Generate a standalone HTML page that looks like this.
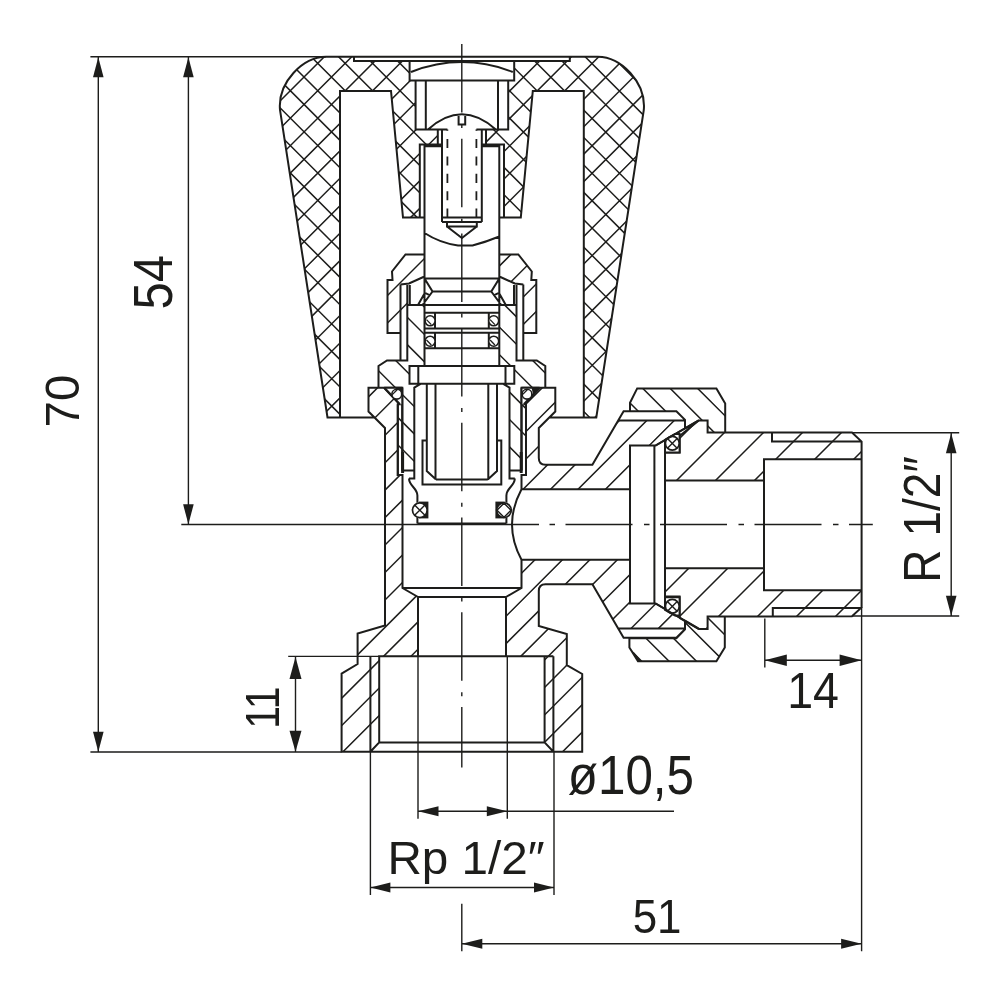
<!DOCTYPE html><html><head><meta charset="utf-8"><title>Valve drawing</title><style>html,body{margin:0;padding:0;background:#fff}svg{display:block;will-change:transform;transform:translateZ(0)}</style></head><body><svg width="1000" height="1000" viewBox="0 0 1000 1000">
<defs><clipPath id="c1"><path d="M326,56.8 C303,57 277.5,82 280,110 L327.5,417.5 L340,417.5 L340,91 L391,91 L403,217.5 L419.8,217.5 L419.8,144.4 L437.8,144.4 L437.8,129.4 L415.6,129.4 L415.6,80.5 L409.6,80.5 L409.6,61 L354,61 L354,56.8 Z"/></clipPath><clipPath id="c2"><path d="M597.8 56.8 C620.8 57 646.3 82 643.8 110 L596.3 417.5 L583.8 417.5 L583.8 91 L532.8 91 L520.8 217.5 L504 217.5 L504 144.4 L486 144.4 L486 129.4 L508.2 129.4 L508.2 80.5 L514.2 80.5 L514.2 61 L569.8 61 L569.8 56.8 Z"/></clipPath><clipPath id="c3"><path d="M424.5,254.5 L405.5,254.5 L392,271.5 L392.5,280 L387.5,280 L387.5,333 L400.5,333 L400.5,315 L407.5,315 L407.5,285 L424.5,276.5 Z"/></clipPath><clipPath id="c4"><path d="M499.3,254.5 L518.3,254.5 L531.8,271.5 L531.3,280 L536.3,280 L536.3,333 L523.3,333 L523.3,284.5 L514.8,283.5 L499.3,276.5 Z"/></clipPath><clipPath id="c5"><path d="M407.5,305 L424.5,305 L424.5,366 L407.5,366 Z"/></clipPath><clipPath id="c6"><path d="M516.3 305 L499.3 305 L499.3 366 L516.3 366 Z"/></clipPath><clipPath id="c7"><path d="M387,360.5 L407.5,360.5 L407.5,366 L409.5,366 L409.5,383.7 L421,383.7 L414.3,387.6 L414.3,470.5 L402.3,470.5 L402.3,387.7 L378.5,387.7 L378.5,366 Z"/></clipPath><clipPath id="c8"><path d="M536.8 360.5 L516.3 360.5 L516.3 366 L514.3 366 L514.3 383.7 L502.8 383.7 L509.5 387.6 L509.5 470.5 L521.5 470.5 L521.5 387.7 L545.3 387.7 L545.3 366 Z"/></clipPath><clipPath id="c9"><path d="M368.5,387.7 L384.2,387.7 L400,404.3 L397.8,404.3 L397.8,475 L402.5,475 L402.5,588 L418,597 L418,656.3 L379.2,656.3 L379.2,742.4 L370.4,751.8 L341.6,751.8 L341.6,673.6 L357.6,664 L357.6,633.6 L385,625.5 L385,428 L368.5,411.5 Z"/></clipPath><clipPath id="c10"><path d="M523.8,404.3 L539.6,387.7 L555.3,387.7 L555.3,411.5 L538.8,428 L538.8,458 Q538.8,464.8 545.5,464.8 L592.4,464.8 L618.2,420.4 L685,420.4 L685,428.3 L655.6,445.5 L630,445.5 L630,489.2 L521.5,489.2 L521.5,475 L526,475 L526,404.3 Z"/></clipPath><clipPath id="c11"><path d="M521.5,559.8 L630,559.8 L630,603.5 L655.6,603.5 L685,620.7 L685,628.6 L618.2,628.6 L592.4,584.2 L545.5,584.2 Q538.8,584.2 538.8,591 L538.8,626 L566.8,634 L566.8,665.2 L582.2,674 L582.2,751.8 L553.4,751.8 L544.6,742.4 L544.6,656.3 L506,656.3 L506,597 L521.5,588 Z"/></clipPath><clipPath id="c12"><path d="M397.8,404.3 L402.3,404.3 L402.3,452 L397.8,452 Z"/></clipPath><clipPath id="c13"><path d="M521.5,404.3 L526,404.3 L526,452 L521.5,452 Z"/></clipPath><clipPath id="c14"><path d="M637.2,388.4 L716.4,388.4 L725.2,403.6 L725.2,432.6 L707.6,432.6 L707.6,420.4 L698.8,420.4 L685,428.3 L685,419.8 L676.4,411.2 L630,411.2 L630,402.8 Z"/></clipPath><clipPath id="c15"><path d="M638,661.3 L716.4,661.3 L724.8,647.5 L724.8,616.6 L707.6,616.6 L707.6,629 L698.8,629 L685,620.7 L685,629.4 L676.4,638.2 L629.4,638.2 L629.4,647.5 Z"/></clipPath><clipPath id="c16"><path d="M665,452.4 L679.6,452.4 L679.6,436 L698.8,420.4 L707.6,420.4 L707.6,432.6 L852,432.6 L861.6,441.6 L861.6,459.2 L764,459.2 L764,480.6 L665,480.6 Z"/></clipPath><clipPath id="c17"><path d="M665,568.2 L764,568.2 L764,590.2 L861.6,590.2 L861.6,607.4 L852,616.2 L707.6,616.6 L707.6,629 L698.8,629 L679.6,618 L679.6,596.6 L665,596.6 Z"/></clipPath><clipPath id="cor"><circle cx="504" cy="510.2" r="7.3"/></clipPath><clipPath id="cd"><rect x="440" y="129.4" width="45" height="92.6"/></clipPath></defs>
<rect width="1000" height="1000" fill="#fff"/>
<g fill="none" stroke="#1d1d1b" stroke-linecap="butt"><path clip-path="url(#c1)" d="M-65.9,419.5 L298.8,54.8 M-38.45,419.5 L326.25,54.8 M-11,419.5 L353.7,54.8 M16.45,419.5 L381.15,54.8 M43.9,419.5 L408.6,54.8 M71.35,419.5 L436.05,54.8 M98.8,419.5 L463.5,54.8 M126.25,419.5 L490.95,54.8 M153.7,419.5 L518.4,54.8 M181.15,419.5 L545.85,54.8 M208.6,419.5 L573.3,54.8 M236.05,419.5 L600.75,54.8 M263.5,419.5 L628.2,54.8 M290.95,419.5 L655.65,54.8 M318.4,419.5 L683.1,54.8 M345.85,419.5 L710.55,54.8 M373.3,419.5 L738,54.8 M400.75,419.5 L765.45,54.8 M428.2,419.5 L792.9,54.8 M-74.4,54.8 L290.3,419.5 M-47,54.8 L317.7,419.5 M-19.6,54.8 L345.1,419.5 M7.8,54.8 L372.5,419.5 M35.2,54.8 L399.9,419.5 M62.6,54.8 L427.3,419.5 M90,54.8 L454.7,419.5 M117.4,54.8 L482.1,419.5 M144.8,54.8 L509.5,419.5 M172.2,54.8 L536.9,419.5 M199.6,54.8 L564.3,419.5 M227,54.8 L591.7,419.5 M254.4,54.8 L619.1,419.5 M281.8,54.8 L646.5,419.5 M309.2,54.8 L673.9,419.5 M336.6,54.8 L701.3,419.5 M364,54.8 L728.7,419.5 M391.4,54.8 L756.1,419.5 M418.8,54.8 L783.5,419.5" stroke-width="1.5"/><path clip-path="url(#c2)" d="M126.25,419.5 L490.95,54.8 M153.7,419.5 L518.4,54.8 M181.15,419.5 L545.85,54.8 M208.6,419.5 L573.3,54.8 M236.05,419.5 L600.75,54.8 M263.5,419.5 L628.2,54.8 M290.95,419.5 L655.65,54.8 M318.4,419.5 L683.1,54.8 M345.85,419.5 L710.55,54.8 M373.3,419.5 L738,54.8 M400.75,419.5 L765.45,54.8 M428.2,419.5 L792.9,54.8 M455.65,419.5 L820.35,54.8 M483.1,419.5 L847.8,54.8 M510.55,419.5 L875.25,54.8 M538,419.5 L902.7,54.8 M565.45,419.5 L930.15,54.8 M592.9,419.5 L957.6,54.8 M620.35,419.5 L985.05,54.8 M647.8,419.5 L1012.5,54.8 M144.8,54.8 L509.5,419.5 M172.2,54.8 L536.9,419.5 M199.6,54.8 L564.3,419.5 M227,54.8 L591.7,419.5 M254.4,54.8 L619.1,419.5 M281.8,54.8 L646.5,419.5 M309.2,54.8 L673.9,419.5 M336.6,54.8 L701.3,419.5 M364,54.8 L728.7,419.5 M391.4,54.8 L756.1,419.5 M418.8,54.8 L783.5,419.5 M446.2,54.8 L810.9,419.5 M473.6,54.8 L838.3,419.5 M501,54.8 L865.7,419.5 M528.4,54.8 L893.1,419.5 M555.8,54.8 L920.5,419.5 M583.2,54.8 L947.9,419.5 M610.6,54.8 L975.3,419.5 M638,54.8 L1002.7,419.5" stroke-width="1.5"/><path clip-path="url(#c3)" d="M320.55,335 L403.05,252.5 M348,335 L430.5,252.5 M375.45,335 L457.95,252.5 M402.9,335 L485.4,252.5" stroke-width="1.5"/><path clip-path="url(#c4)" d="M430.35,335 L512.85,252.5 M457.8,335 L540.3,252.5 M485.25,335 L567.75,252.5 M512.7,335 L595.2,252.5" stroke-width="1.5"/><path clip-path="url(#c5)" d="M365.6,303 L430.6,368 M393,303 L458,368 M420.4,303 L485.4,368" stroke-width="1.5"/><path clip-path="url(#c6)" d="M447.8,303 L512.8,368 M475.2,303 L540.2,368 M502.6,303 L567.6,368" stroke-width="1.5"/><path clip-path="url(#c7)" d="M284.1,358.5 L398.1,472.5 M311.5,358.5 L425.5,472.5 M338.9,358.5 L452.9,472.5 M366.3,358.5 L480.3,472.5 M393.7,358.5 L507.7,472.5 M421.1,358.5 L535.1,472.5" stroke-width="1.5"/><path clip-path="url(#c8)" d="M393.7,358.5 L507.7,472.5 M421.1,358.5 L535.1,472.5 M448.5,358.5 L562.5,472.5 M475.9,358.5 L589.9,472.5 M503.3,358.5 L617.3,472.5 M530.7,358.5 L644.7,472.5" stroke-width="1.5"/><path clip-path="url(#c9)" d="M-15.9,753.8 L352.2,385.7 M11.55,753.8 L379.65,385.7 M39,753.8 L407.1,385.7 M66.45,753.8 L434.55,385.7 M93.9,753.8 L462,385.7 M121.35,753.8 L489.45,385.7 M148.8,753.8 L516.9,385.7 M176.25,753.8 L544.35,385.7 M203.7,753.8 L571.8,385.7 M231.15,753.8 L599.25,385.7 M258.6,753.8 L626.7,385.7 M286.05,753.8 L654.15,385.7 M313.5,753.8 L681.6,385.7 M340.95,753.8 L709.05,385.7 M368.4,753.8 L736.5,385.7 M395.85,753.8 L763.95,385.7" stroke-width="1.5"/><path clip-path="url(#c10)" d="M438.85,491.2 L544.35,385.7 M466.3,491.2 L571.8,385.7 M493.75,491.2 L599.25,385.7 M521.2,491.2 L626.7,385.7 M548.65,491.2 L654.15,385.7 M576.1,491.2 L681.6,385.7 M603.55,491.2 L709.05,385.7 M631,491.2 L736.5,385.7 M658.45,491.2 L763.95,385.7 M685.9,491.2 L791.4,385.7" stroke-width="1.5"/><path clip-path="url(#c11)" d="M313.5,753.8 L509.5,557.8 M340.95,753.8 L536.95,557.8 M368.4,753.8 L564.4,557.8 M395.85,753.8 L591.85,557.8 M423.3,753.8 L619.3,557.8 M450.75,753.8 L646.75,557.8 M478.2,753.8 L674.2,557.8 M505.65,753.8 L701.65,557.8 M533.1,753.8 L729.1,557.8 M560.55,753.8 L756.55,557.8 M588,753.8 L784,557.8 M615.45,753.8 L811.45,557.8 M642.9,753.8 L838.9,557.8 M670.35,753.8 L866.35,557.8" stroke-width="1.5"/><path clip-path="url(#c12)" d="M355.3,402.3 L407,454 M382.7,402.3 L434.4,454" stroke-width="1.5"/><path clip-path="url(#c13)" d="M492.3,402.3 L544,454 M519.7,402.3 L571.4,454" stroke-width="1.5"/><path clip-path="url(#c14)" d="M586,386.4 L634.2,434.6 M613.4,386.4 L661.6,434.6 M640.8,386.4 L689,434.6 M668.2,386.4 L716.4,434.6 M695.6,386.4 L743.8,434.6 M723,386.4 L771.2,434.6" stroke-width="1.5"/><path clip-path="url(#c15)" d="M595,614.6 L643.7,663.3 M622.4,614.6 L671.1,663.3 M649.8,614.6 L698.5,663.3 M677.2,614.6 L725.9,663.3 M704.6,614.6 L753.3,663.3" stroke-width="1.5"/><path clip-path="url(#c16)" d="M635.4,482.6 L699.6,418.4 M674.4,482.6 L738.6,418.4 M713.4,482.6 L777.6,418.4 M752.4,482.6 L816.6,418.4 M791.4,482.6 L855.6,418.4 M830.4,482.6 L894.6,418.4" stroke-width="1.5"/><path clip-path="url(#c17)" d="M626,631 L690.8,566.2 M665,631 L729.8,566.2 M704,631 L768.8,566.2 M743,631 L807.8,566.2 M782,631 L846.8,566.2 M821,631 L885.8,566.2 M860,631 L924.8,566.2" stroke-width="1.5"/></g>
<g fill="#fff" stroke="none"><rect x="409.5" y="366" width="104.8" height="17.7"/></g>
<g fill="none" stroke="#1d1d1b" stroke-width="2.0" stroke-linejoin="miter" stroke-linecap="butt">
<path d="M326,56.8 C303,57 277.5,82 280,110 L327.5,417.5 L340,417.5 L340,91 L391,91 L403,217.5 L419.8,217.5 L419.8,144.4 L437.8,144.4 L437.8,129.4 L415.6,129.4 L415.6,80.5 L409.6,80.5 L409.6,61 L354,61 L354,56.8 Z M597.8 56.8 C620.8 57 646.3 82 643.8 110 L596.3 417.5 L583.8 417.5 L583.8 91 L532.8 91 L520.8 217.5 L504 217.5 L504 144.4 L486 144.4 L486 129.4 L508.2 129.4 L508.2 80.5 L514.2 80.5 L514.2 61 L569.8 61 L569.8 56.8 Z M354,56.8 L569.8,56.8 M354,61 L569.8,61 M340,417.5 L374.5,417.5 M583.8 417.5 L549.3 417.5 M409.6,80.5 L514.2,80.5 M411,72 Q461.9,52.2 512.8,72 M425.8,80.5 L425.8,129 M498 80.5 L498 129 M428,129.4 Q461.9,99 495.8,129.4 M458.6,114.6 L458.6,124.6 L465.2,124.6 L465.2,114.6 M415.6,129.4 L447.4,129.4 M508.2 129.4 L476.4 129.4 M442,129.4 L442,222 M481.8 129.4 L481.8 222 M437.8,144.4 L442,144.4 M486 144.4 L481.8 144.4 M424.5,146.3 L442,146.3 M499.3 146.3 L481.8 146.3 M424.5,144.4 L424.5,366 M499.3 144.4 L499.3 366 M419.8,217.5 L424.5,217.5 M504 217.5 L499.3 217.5 M442,217.5 L481.8,217.5 M442,222 L481.8,222 M447,222 L447,226.5 L476.8,226.5 L476.8,222 M447,226.5 L461.9,238 L476.8,226.5 M424.5,233 Q440,243 458,245.5 L472.5,245.5 Q486,242 499.3,236.5 M424.5,254.5 L405.5,254.5 L392,271.5 L392.5,280 L387.5,280 L387.5,333 L400.5,333 M499.3 254.5 L518.3 254.5 L531.8 271.5 L531.3 280 L536.3 280 L536.3 333 L523.3 333 M400.5,284.5 L400.5,360.5 L407.3,360.5 L407.3,285 M523.3 284.5 L523.3 360.5 L516.5 360.5 L516.5 285 M400.5,284.5 L409,283.5 L424.5,276.5 M523.3 284.5 L514.8 283.5 L499.3 276.5 M409.8,285 L409.8,305 M514 285 L514 305 M424.5,278.5 L499.3,278.5 M432.5,291.5 L491.3,291.5 M424.5,278.5 L432.5,291.5 L422.5,305 M499.3 278.5 L491.3 291.5 L501.3 305 M424.5,293.5 L418,305 M499.3 293.5 L505.8 305 M424.5,292.7 L430,295.3 M499.3 292.7 L493.8 295.3 M407.5,305 L516.3,305 M424.5,312.8 L499.3,312.8 M424.5,328.4 L499.3,328.4 M424.5,332.7 L499.3,332.7 M424.5,348.2 L499.3,348.2 M435,312.8 L435,328.4 M488.8 312.8 L488.8 328.4 M435,332.7 L435,348.2 M488.8 332.7 L488.8 348.2 M407.5,360.5 L387,360.5 L378.5,366 L378.5,387.7 M516.3 360.5 L536.8 360.5 L545.3 366 L545.3 387.7 M421,383.7 L414.3,387.6 L414.3,478.5 L409,478.5 M502.8 383.7 L509.5 387.6 L509.5 478.5 L514.8 478.5 M402.5,470.5 L413.5,470.5 M521.3 470.5 L510.3 470.5 M409.5,366 L514.3,366 L514.3,383.7 L409.5,383.7 Z M418.3,366 L418.3,383.7 M505.5 366 L505.5 383.7 M368.5,387.7 L384.2,387.7 L400,404.3 L397.8,404.3 L397.8,475 L402.5,475 L402.5,588 L418,597 L418,656.3 L379.2,656.3 L379.2,742.4 L370.4,751.8 L341.6,751.8 L341.6,673.6 L357.6,664 L357.6,633.6 L385,625.5 L385,428 L368.5,411.5 Z M523.8,404.3 L539.6,387.7 L555.3,387.7 L555.3,411.5 L538.8,428 L538.8,458 Q538.8,464.8 545.5,464.8 L592.4,464.8 L618.2,420.4 L685,420.4 L685,428.3 L655.6,445.5 L630,445.5 L630,489.2 L521.5,489.2 L521.5,475 L526,475 L526,404.3 Z M521.5,559.8 L630,559.8 L630,603.5 L655.6,603.5 L685,620.7 L685,628.6 L618.2,628.6 L592.4,584.2 L545.5,584.2 Q538.8,584.2 538.8,591 L538.8,626 L566.8,634 L566.8,665.2 L582.2,674 L582.2,751.8 L553.4,751.8 L544.6,742.4 L544.6,656.3 L506,656.3 L506,597 L521.5,588 Z M384.2,387.7 L402.3,387.7 M539.6 387.7 L521.5 387.7 M402.3,387.7 L402.3,470.5 M521.5 387.7 L521.5 470.5 M618.2,420.4 L623.6,411.2 L676.4,411.2 L685,419.8 L685,420.4 M618.2 628.6 L623.6 637.8 L676.4 637.8 L685 629.2 L685 628.6 M698.8,420.4 L685,428.3 M698.8 628.6 L685 620.7 M654.4,445.5 L654.4,603.5 M630,445.5 L630,603.5 M370.4,656.3 L370.4,751.8 M553.4,656.3 L553.4,751.8 M379.2,742.4 L544.6,742.4 M341.6,751.8 L582.2,751.8 M379.2,656.3 L553.4,656.3 M418,597 L506,597 M402.5,588 L521.5,588 M521.5,489.2 Q502.5,524.5 521.5,559.8 M426.8,383.7 L426.8,471 L436,479.5 M497 383.7 L497 471 L487.8 479.5 M435.5,383.7 L435.5,479.5 M488.3 383.7 L488.3 479.5 M436,479.5 L487.8,479.5 M426.8,440.5 L422.5,440.5 L422.5,484.5 L501.3,484.5 L501.3,440.5 L497,440.5 M409,478.5 C409,486 417.4,488 417.4,495.5 L417.4,502.6 M514.8 478.5 C514.8 486 506.4 488 506.4 495.5 L506.4 502.6 M417.4,517.4 L417.4,523.4 M506.4 517.4 L506.4 523.4 M637.2,388.4 L716.4,388.4 L725.2,403.6 L725.2,432.6 L707.6,432.6 L707.6,420.4 L698.8,420.4 L685,428.3 L685,419.8 L676.4,411.2 L630,411.2 L630,402.8 Z M638,661.3 L716.4,661.3 L724.8,647.5 L724.8,616.6 L707.6,616.6 L707.6,629 L698.8,629 L685,620.7 L685,629.4 L676.4,638.2 L629.4,638.2 L629.4,647.5 Z M633.2,652.8 L640.4,661.3 M665,452.4 L679.6,452.4 L679.6,436 L698.8,420.4 L707.6,420.4 L707.6,432.6 L852,432.6 L861.6,441.6 L861.6,459.2 L764,459.2 L764,480.6 L665,480.6 Z M665,568.2 L764,568.2 L764,590.2 L861.6,590.2 L861.6,607.4 L852,616.2 L707.6,616.6 L707.6,629 L698.8,629 L679.6,618 L679.6,596.6 L665,596.6 Z M665,440 L665,609.6 M764,459.2 L764,590.2 M861.6,441.6 L861.6,607.4 M772,432.6 L772,441.6 L861.6,441.6 M772.8,616.2 L772.8,608 L861.6,608"/>
</g>
<g fill="none" stroke="#1d1d1b"><path d="M402.6,452 L402.6,473 M521.2,452 L521.2,473" stroke-width="3"/><path d="M417.4,523.6 L506.4,523.6" stroke-width="2.4"/><rect x="420" y="502.6" width="7.4" height="14.8" fill="#1d1d1b" stroke-width="2.0"/><circle cx="419.8" cy="510.2" r="7.3" fill="#fff" stroke-width="1.7"/><path d="M414.64,505.04 L424.96,515.36 M414.64,515.36 L424.96,505.04" stroke-width="1.4"/><rect x="496.4" y="502.6" width="7.4" height="14.8" fill="#1d1d1b" stroke-width="2.0"/><circle cx="504" cy="510.2" r="7.3" fill="#fff" stroke-width="1.7"/><path clip-path="url(#cor)" d="M505,502.2 l-9,9 M512,509.2 l-9,9 M503,502.2 l9,9 M496,509.2 l9,9" stroke-width="1.4"/><path d="M665,439.8 L675,434 L679.6,434 L679.6,452.4 L665,452.4 Z" fill="#fff" stroke-width="2.0"/><circle cx="672.3" cy="443.3" r="6.9" fill="#fff" stroke-width="1.7"/><path d="M667.42,438.42 L677.18,448.18 M667.42,448.18 L677.18,438.42" stroke-width="1.4"/><path d="M665,609.8 L675,615.6 L679.6,615.6 L679.6,597.2 L665,597.2 Z" fill="#fff" stroke-width="2.0"/><circle cx="672.3" cy="606.3" r="6.9" fill="#fff" stroke-width="1.7"/><path d="M667.42,601.42 L677.18,611.18 M667.42,611.18 L677.18,601.42" stroke-width="1.4"/><path d="M698.8,420.4 L655.6,445.5" stroke-width="2.0"/><path d="M698.8,629 L655.6,603.5" stroke-width="2.0"/><circle cx="430.1" cy="320.8" r="5" fill="#fff" stroke-width="1.6"/><path d="M426.5,319.6 L431.3,324.6" stroke-width="1.3"/><circle cx="430.1" cy="341.2" r="5" fill="#fff" stroke-width="1.6"/><path d="M426.5,340 L431.3,345" stroke-width="1.3"/><circle cx="493.7" cy="320.8" r="5" fill="#fff" stroke-width="1.6"/><path d="M490.1,319.6 L494.9,324.6" stroke-width="1.3"/><circle cx="493.7" cy="341.2" r="5" fill="#fff" stroke-width="1.6"/><path d="M490.1,340 L494.9,345" stroke-width="1.3"/><path d="M384.2,387.7 L402.3,387.7 L402.3,404.3 L400,404.3 Z" fill="#fff" stroke="none"/><path d="M395,387.7 L402.3,387.7 L402.3,396 Z" fill="#1d1d1b" stroke="none"/><path d="M384.2,387.7 L399.8,404.3" stroke-width="2.4"/><circle cx="396.8" cy="394.2" r="4.9" fill="#fff" stroke-width="1.6"/><path d="M392.3,394.6 L397.1,389.8" stroke-width="1.3"/><path d="M384.2,387.7 L402.3,387.7 L402.3,470.5" stroke-width="2.0"/><path d="M397.8,404.3 L397.8,475 L402.5,475" stroke-width="2.0"/><path d="M539.6,387.7 L521.5,387.7 L521.5,404.3 L523.8,404.3 Z" fill="#fff" stroke="none"/><path d="M531.5,387.7 L539.6,387.7 L533.2,394.4 Z" fill="#1d1d1b" stroke="none"/><path d="M539.6,387.7 L524,404.3" stroke-width="2.4"/><circle cx="527" cy="394.2" r="4.9" fill="#fff" stroke-width="1.6"/><path d="M522.5,394.6 L527.3,389.8" stroke-width="1.3"/><path d="M539.6,387.7 L521.5,387.7 L521.5,470.5" stroke-width="2.0"/><path d="M526,404.3 L526,475 L521.3,475" stroke-width="2.0"/><path d="M447.4,121.6 L447.4,222 M476.4,121.6 L476.4,222" stroke-width="1.8" stroke-dasharray="9.1 8.3" clip-path="url(#cd)"/></g>
<g fill="none" stroke="#1d1d1b" stroke-width="1.4"><path d="M90.4,56.8 L326,56.8 M90.4,752 L341.6,752 M98.3,57 L98.3,752 M188.4,57 L188.4,524.5 M295.5,656.5 L295.5,752 M288.2,656.4 L379.2,656.4 M181.3,524.5 L539,524.5 M852,432.8 L959.2,432.8 M852,616 L959.2,616 M951.2,433 L951.2,616 M764.8,618.4 L764.8,667.5 M861.6,607 L861.6,951.2 M764.8,660.3 L861.6,660.3 M418,656.3 L418,818.7 M507.3,656.3 L507.3,818.7 M418,811.2 L674,811.2 M370.4,751.8 L370.4,895 M554,751.8 L554,895 M370.4,887.5 L554,887.5 M461.8,903.7 L461.8,951.2 M461.8,943.8 L861.6,943.8"/><path d="M461.8,44 L461.8,767.5" stroke-width="1.4" stroke-dasharray="68.5 11.5 4 10.7"/><path d="M549.5,524.5 L872.8,524.5" stroke-width="1.4" stroke-dasharray="5.5 10.5 67 11.5"/></g>
<g fill="#1d1d1b" stroke="none"><polygon points="98.3,57.2 93,77.2 103.6,77.2"/><polygon points="98.3,751.8 93,731.8 103.6,731.8"/><polygon points="188.4,57.2 183.1,77.2 193.7,77.2"/><polygon points="188.4,524.3 183.1,504.3 193.7,504.3"/><polygon points="295.5,657 289.5,679 301.5,679"/><polygon points="295.5,751.8 289.5,730.8 301.5,730.8"/><polygon points="951.2,433.2 945.9,453.2 956.5,453.2"/><polygon points="951.2,615.8 945.9,595.8 956.5,595.8"/><polygon points="764.8,660.3 786.8,654.5 786.8,666.1"/><polygon points="861.6,660.3 839.6,654.5 839.6,666.1"/><polygon points="418,811.2 438.5,806.2 438.5,816.2"/><polygon points="507.3,811.2 486.8,806.2 486.8,816.2"/><polygon points="370.4,887.5 390.4,882.5 390.4,892.5"/><polygon points="554,887.5 534,882.5 534,892.5"/><polygon points="461.8,943.8 482.3,938.8 482.3,948.8"/><polygon points="861.6,943.8 841.1,938.8 841.1,948.8"/></g>
<g fill="#1d1d1b" stroke="none" font-family="'Liberation Sans', Arial, sans-serif"><text transform="translate(78.51,427.38) rotate(-90) scale(0.4755,0.4859)" font-size="100">70</text><text transform="translate(172.44,309.46) rotate(-90) scale(0.4904,0.5643)" font-size="100">54</text><text transform="translate(279.2,728.87) rotate(-90) scale(0.4088,0.4870)" font-size="100">11</text><text transform="translate(940.2,582.69) rotate(-90) scale(0.4609,0.5174)" font-size="100">R 1/2″</text><text transform="translate(387.39,873.7) scale(0.4766,0.4710)" font-size="100">Rp 1/2″</text><text transform="translate(567.77,794.45) scale(0.4940,0.5493)" font-size="100">ø10,5</text><text transform="translate(787.21,708.1) scale(0.4657,0.4971)" font-size="100">14</text><text transform="translate(632.64,933.12) scale(0.4392,0.4800)" font-size="100">51</text></g>
</svg></body></html>
